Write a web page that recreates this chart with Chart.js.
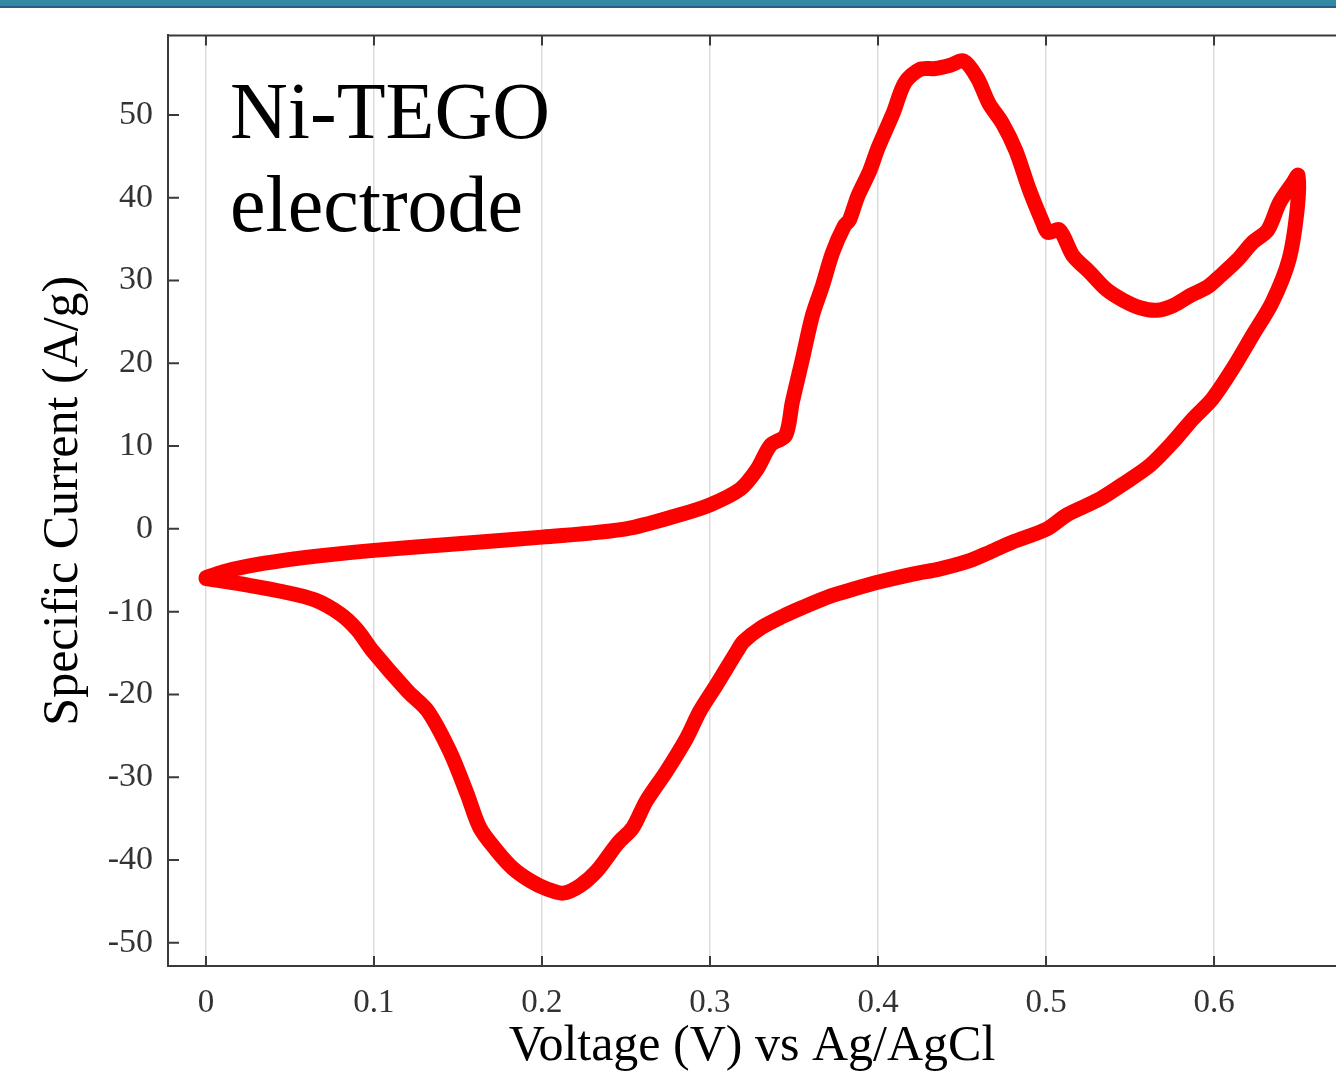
<!DOCTYPE html>
<html>
<head>
<meta charset="utf-8">
<script src="https://cdn.jsdelivr.net/npm/chart.js@4.4.1/dist/chart.umd.min.js"></script>
<style>
  html, body { margin: 0; padding: 0; background: #fff; overflow: hidden; }
  #wrap { position: relative; width: 1336px; height: 1079px; }
  #bar { position: absolute; left: 0; top: 0; width: 1336px; height: 6px; background: #3388a3; border-bottom: 2px solid #2a5d86; }
</style>
</head>
<body>
<div id="wrap">
  <canvas id="cv" width="1336" height="1079"></canvas>
  <div id="bar"></div>
</div>
<script>
// anodic sweep 0 -> 0.65 V
const fwdV = [0.000, 0.010, 0.025, 0.046, 0.070, 0.100, 0.150, 0.200, 0.250, 0.282, 0.300, 0.318, 0.328, 0.336, 0.345, 0.349, 0.355, 0.361, 0.367, 0.373, 0.380, 0.383, 0.388, 0.395, 0.400, 0.409, 0.416, 0.425, 0.434, 0.443, 0.451, 0.459, 0.466, 0.474, 0.482, 0.490, 0.498, 0.501, 0.508, 0.516, 0.526, 0.536, 0.546, 0.556, 0.566, 0.576, 0.586, 0.596, 0.604, 0.614, 0.623, 0.632, 0.639, 0.647, 0.650];
const fwdI = [-5.9, -5.2, -4.5, -3.8, -3.2, -2.6, -1.8, -1.0, 0.0, 1.7, 2.9, 4.8, 7.2, 10.1, 11.3, 15.3, 20.5, 25.8, 29.4, 33.4, 36.6, 37.3, 40.2, 43.2, 46.0, 50.2, 53.9, 55.5, 55.6, 56.0, 56.5, 54.5, 51.4, 49.0, 45.7, 41.0, 37.0, 35.8, 36.1, 33.0, 31.0, 28.9, 27.6, 26.7, 26.4, 27.0, 28.2, 29.2, 30.6, 32.5, 34.6, 36.1, 39.4, 41.8, 42.7];

// cathodic sweep 0.65 -> 0 V
const revV = [0.6495, 0.6446, 0.6345, 0.623, 0.611, 0.599, 0.5875, 0.5756, 0.562, 0.548, 0.532, 0.5125, 0.5006, 0.480, 0.4667, 0.455, 0.4375, 0.420, 0.401, 0.385, 0.372, 0.355, 0.343, 0.330, 0.320, 0.316, 0.304, 0.294, 0.286, 0.274, 0.262, 0.254, 0.245, 0.2327, 0.2226, 0.2125, 0.203, 0.193, 0.1827, 0.1732, 0.163, 0.1554, 0.1452, 0.132, 0.120, 0.0994, 0.090, 0.080, 0.065, 0.046, 0.025, 0.010, 0.000];
const revI = [38.6, 32.5, 27.3, 23.4, 19.3, 15.7, 13.3, 10.5, 7.7, 5.7, 3.6, 1.7, 0.0, -1.6, -2.8, -3.8, -4.8, -5.5, -6.4, -7.3, -8.1, -9.5, -10.6, -12.0, -13.6, -14.8, -18.8, -22.0, -25.3, -29.3, -32.9, -36.1, -38.0, -41.3, -43.1, -44.0, -43.5, -42.5, -41.0, -38.9, -36.1, -32.0, -26.9, -22.0, -19.6, -14.8, -12.2, -10.3, -8.6, -7.6, -6.8, -6.3, -6.0];

const xTicks = [0, 0.1, 0.2, 0.3, 0.4, 0.5, 0.6];
const xTickLabels = ["0", "0.1", "0.2", "0.3", "0.4", "0.5", "0.6"];
const yTicks = [-50, -40, -30, -20, -10, 0, 10, 20, 30, 40, 50];
const yTickLabels = ["-50", "-40", "-30", "-20", "-10", "0", "10", "20", "30", "40", "50"];

const loop = fwdV.map((v, i) => ({ x: v, y: fwdI[i] }))
  .concat(revV.map((v, i) => ({ x: v, y: revI[i] })));

const axisColor = "#3a3a3a";
const serif = "'Liberation Serif', 'Times New Roman', serif";

// inward tick marks, top frame line and the label text
const framePlugin = {
  id: "frame",
  afterDraw(chart) {
    const { ctx, chartArea: a, scales } = chart;
    ctx.save();
    ctx.strokeStyle = axisColor;
    ctx.lineWidth = 2;
    ctx.beginPath();
    ctx.moveTo(a.left, a.top);
    ctx.lineTo(a.right, a.top);
    xTicks.forEach((v) => {
      const px = scales.x.getPixelForValue(v);
      ctx.moveTo(px, a.top);
      ctx.lineTo(px, a.top + 10);
      ctx.moveTo(px, a.bottom);
      ctx.lineTo(px, a.bottom - 10);
    });
    yTicks.forEach((v) => {
      const py = scales.y.getPixelForValue(v);
      ctx.moveTo(a.left, py);
      ctx.lineTo(a.left + 11, py);
    });
    ctx.stroke();

    ctx.fillStyle = "#000";
    ctx.font = "80px " + serif;
    ctx.textBaseline = "alphabetic";
    ctx.textAlign = "left";
    ctx.fillText("Ni-TEGO", 230, 138);
    ctx.fillText("electrode", 230, 231);
    ctx.restore();
  },
};

new Chart(document.getElementById("cv"), {
  type: "line",
  data: {
    datasets: [
      {
        label: "Ni-TEGO",
        data: loop,
        borderColor: "#ff0000",
        borderWidth: 15,
        pointRadius: 0,
        tension: 0.3,
        borderJoinStyle: "round",
        borderCapStyle: "round",
        fill: false,
      },
    ],
  },
  options: {
    responsive: false,
    animation: false,
    layout: { padding: { top: 32, right: 0, bottom: 0, left: 0 } },
    plugins: { legend: { display: false }, tooltip: { enabled: false } },
    scales: {
      x: {
        type: "linear",
        min: -0.0226,
        max: 0.6726,
        afterFit: (s) => { s.height = 113; },
        afterBuildTicks: (s) => { s.ticks = xTicks.map((v) => ({ value: v })); },
        grid: { color: "#dcdcdc", lineWidth: 1.5, drawTicks: false },
        border: { color: axisColor, width: 2 },
        ticks: {
          padding: 18,
          color: "#333",
          font: { family: serif, size: 33 },
          maxRotation: 0,
          callback: (v, i) => xTickLabels[i],
        },
        title: {
          display: true,
          text: "Voltage (V) vs Ag/AgCl",
          color: "#000",
          font: { family: serif, size: 50 },
          padding: { top: 2, bottom: 2 },
        },
      },
      y: {
        type: "linear",
        min: -52.8,
        max: 59.6,
        afterFit: (s) => { s.width = 168; },
        afterBuildTicks: (s) => { s.ticks = yTicks.map((v) => ({ value: v })); },
        grid: { display: false, drawTicks: false },
        border: { color: axisColor, width: 2 },
        ticks: {
          padding: 15,
          color: "#333",
          font: { family: serif, size: 34 },
          callback: (v, i) => yTickLabels[i],
        },
        title: {
          display: true,
          text: "Specific Current (A/g)",
          color: "#000",
          font: { family: serif, size: 50 },
          padding: { top: 34, bottom: 4 },
        },
      },
    },
  },
  plugins: [framePlugin],
});
</script>
</body>
</html>
